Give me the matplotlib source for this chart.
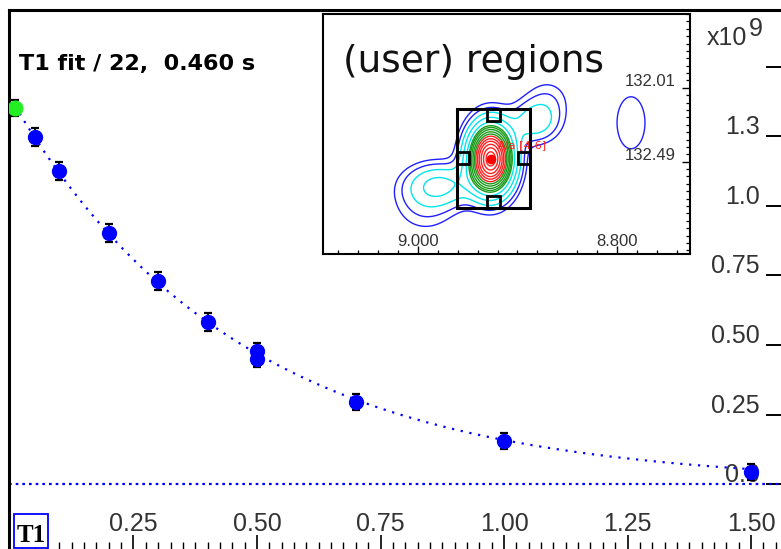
import numpy as np
import matplotlib.pyplot as plt
from matplotlib.patches import Rectangle
from matplotlib.transforms import offset_copy

# T1 relaxation series: delay (s) and peak intensity (x1e9)
delays = [0.01, 0.05, 0.1, 0.2, 0.3, 0.4, 0.5, 0.5, 0.7, 1.0, 1.5]
intensity = [1.352, 1.248, 1.126, 0.903, 0.730, 0.583, 0.478, 0.450, 0.295, 0.155, 0.043]
errors = [0.03, 0.032, 0.032, 0.034, 0.033, 0.032, 0.03, 0.03, 0.03, 0.028, 0.03]
t1_value = 0.460
fit_amplitude = 1.39

x_ticks = [0.25, 0.50, 0.75, 1.00, 1.25, 1.50]
x_tick_labels = ["0.25", "0.50", "0.75", "1.00", "1.25", "1.50"]
y_ticks = [0.0, 0.25, 0.5, 0.75, 1.0, 1.25, 1.5]
y_tick_labels = ["0.0", "0.25", "0.50", "0.75", "1.0", "1.3", ""]

# 2D spectrum region around the peak: (1H ppm, 13C ppm, height, 1H sigma, 13C sigma)
peak_h = [8.9269, 8.9779, 8.8824, 8.993, 8.8693, 8.7859]
peak_c = [132.471, 132.640, 132.231, 132.770, 132.088, 132.237]
peak_height = [1.0, 0.16, 0.13, 0.06, 0.05, 0.05]
peak_wh = [0.0141, 0.0221, 0.0161, 0.0221, 0.0161, 0.0166]
peak_wc = [0.140, 0.091, 0.091, 0.130, 0.104, 0.20]

level_blue = [0.035, 0.06]
level_cyan = [0.10, 0.16, 0.24]
level_green = [0.31, 0.35, 0.40, 0.46, 0.52]
level_red = [0.58, 0.65, 0.72, 0.80, 0.88, 0.95]

region_h = [8.9608, 8.8874]
region_c = [132.146, 132.79]
inset_h_ticks = [9.000, 8.800]
inset_h_labels = ["9.000", "8.800"]
inset_c_ticks = [132.01, 132.49]
inset_c_labels = ["132.01", "132.49"]

W, H = 781, 549
BLUE = '#0000ff'
tick_font = 'Liberation Sans'
tick_color = '#333333'

fig = plt.figure(figsize=(W / 100, H / 100), dpi=100)
fig.patch.set_facecolor('white')

# ---- main T1 decay plot ----
ax = fig.add_axes([9 / W, 0, 1 - 9 / W, 1 - 10 / H])
ax.set_xlim(-0.002, 1.5607)
ax.set_ylim(-0.2338, 1.705)
ax.spines['right'].set_visible(False)
ax.spines['bottom'].set_visible(False)
ax.spines['left'].set_linewidth(2.2)
ax.spines['top'].set_linewidth(2.2)

t_fit = np.linspace(delays[0], delays[-1], 400)
ax.plot(t_fit, fit_amplitude * np.exp(-t_fit / t1_value), color=BLUE,
        ls=(0, (1, 3)), lw=1.6, zorder=2)
ax.axhline(0, color=BLUE, ls=(0, (1.2, 1.8)), lw=1.6, zorder=2)

ax.errorbar(delays[1:], intensity[1:], yerr=errors[1:], fmt='o', ms=10,
            mfc=BLUE, mec=BLUE, ecolor='black', elinewidth=1.3,
            capsize=3.2, capthick=1.6, zorder=4)
ax.errorbar(delays[:1], intensity[:1], yerr=errors[:1], fmt='o', ms=10.5,
            mfc='#22ee22', mec='#22ee22', ecolor='black', elinewidth=1.3,
            capsize=3.2, capthick=1.6, zorder=4)

ax.set_xticks(np.arange(0, 1.56, 0.25))
ax.set_xticks(np.arange(0.025, 1.56, 0.025), minor=True)
ax.tick_params(axis='x', which='major', direction='in', length=10, width=1.2,
               labelbottom=False, color='black')
ax.tick_params(axis='x', which='minor', direction='in', length=5, width=1.0)
ax.yaxis.tick_right()
ax.set_yticks(y_ticks)
ax.tick_params(axis='y', direction='in', length=11, width=1.4,
               labelright=False, labelleft=False)

xt = ax.get_xaxis_transform()
for t, lab in zip(x_ticks, x_tick_labels):
    ax.text(t, 18 / 539, lab, transform=xt, ha='center', va='baseline',
            fontsize=18, family=tick_font, color=tick_color)

yt = offset_copy(ax.get_yaxis_transform(), fig=fig, y=2, units='dots')
for v, lab in zip(y_ticks, y_tick_labels):
    ax.text((760 - 9) / 772, v, lab, transform=yt, ha='right', va='baseline',
            fontsize=18, family=tick_font, color=tick_color, zorder=3)

fig.text(707 / W, 1 - 45 / H, "x10", fontsize=18, family=tick_font,
         color=tick_color, va='baseline')
fig.text(749 / W, 1 - 36 / H, "9", fontsize=18, family=tick_font,
         color=tick_color, va='baseline')

fig.text(19 / W, 1 - 70 / H, "T1 fit / 22,  0.460 s", fontsize=16,
         fontweight='bold', family='DejaVu Sans', va='baseline')

fig.add_artist(Rectangle((14 / W, 1 / H), 34 / W, 34 / H, transform=fig.transFigure,
                         facecolor='white', edgecolor=BLUE, lw=1.3, zorder=10))
fig.text(31 / W, 1 - 536 / H, "T1", fontsize=18, fontweight='bold',
         family='Liberation Serif', ha='center', va='center', zorder=11)

# ---- inset: contour plot of the peak region ----
ax2 = fig.add_axes([323 / W, 1 - 254 / H, (690 - 323) / W, (254 - 14) / H], zorder=5)
ax2.set_facecolor('white')
for s in ax2.spines.values():
    s.set_linewidth(1.5)

gh = np.linspace(9.0955, 8.7266, 400)
gc = np.linspace(131.53, 133.09, 400)
GH, GC = np.meshgrid(gh, gc)
Z = np.zeros_like(GH)
for h0, c0, a, wh, wc in zip(peak_h, peak_c, peak_height, peak_wh, peak_wc):
    Z += a * np.exp(-0.5 * ((GH - h0) / wh) ** 2 - 0.5 * ((GC - c0) / wc) ** 2)

ax2.contour(GH, GC, Z, levels=level_blue, colors='#2020ff', linewidths=1.0)
ax2.contour(GH, GC, Z, levels=level_cyan, colors='#00e5ee', linewidths=1.0)
ax2.contour(GH, GC, Z, levels=level_green, colors='#1a9a1a', linewidths=1.0)
ax2.contour(GH, GC, Z, levels=level_red, colors='#ff2020', linewidths=1.0)

ax2.plot(peak_h[0], peak_c[0], 'o', color='#ff0000', ms=6, zorder=6)
ax2.text(peak_h[0] - 0.0075, peak_c[0] - 0.07, "Ala [4-6]", color='#ff2020',
         fontsize=8, family='DejaVu Sans', va='baseline', zorder=6)

# integration region box with its edge handles
rx0, rx1 = region_h
ry0, ry1 = region_c
ax2.add_patch(Rectangle((rx0, ry0), rx1 - rx0, ry1 - ry0, fill=False,
                        edgecolor='black', lw=2.2, zorder=7))
hw, hh = 0.0121, 0.078
mx, my = (rx0 + rx1) / 2, (ry0 + ry1) / 2
for cx, cy in [(mx, ry0 + hh / 2), (mx, ry1 - hh / 2),
               (rx0 - hw / 2, my), (rx1 + hw / 2, my)]:
    ax2.add_patch(Rectangle((cx + hw / 2, cy - hh / 2), -hw, hh, fill=False,
                            edgecolor='black', lw=2.0, zorder=7))

ax2.yaxis.tick_right()
ax2.set_yticks(inset_c_ticks)
ax2.set_yticks(132.01 + 0.048 * np.arange(-10, 24), minor=True)
ax2.set_xticks(inset_h_ticks)
ax2.set_xticks(9.0 + 0.02 * np.arange(-19, 6), minor=True)
ax2.tick_params(which='major', direction='in', length=6, width=1.0,
                labelbottom=False, labelright=False, labelleft=False)
ax2.tick_params(which='minor', direction='in', length=3, width=0.9)
ax2.set_ylim(133.09, 131.53)
ax2.set_xlim(9.0955, 8.7266)

xt2 = ax2.get_xaxis_transform()
for h, lab in zip(inset_h_ticks, inset_h_labels):
    ax2.text(h, 8 / 240, lab, transform=xt2, ha='center', va='baseline',
             fontsize=12, family=tick_font, color=tick_color)
yt2 = offset_copy(ax2.get_yaxis_transform(), fig=fig, y=2, units='dots')
for c, lab in zip(inset_c_ticks, inset_c_labels):
    ax2.text((676 - 323) / 367, c, lab, transform=yt2, ha='right', va='baseline',
             fontsize=12, family=tick_font, color=tick_color, zorder=8)

ax2.text((343 - 323) / 367, (254 - 72) / 240, "(user) regions", transform=ax2.transAxes,
         fontsize=27, family='DejaVu Sans', va='baseline', color='#111111')

fig.savefig('out.png', dpi=100)
